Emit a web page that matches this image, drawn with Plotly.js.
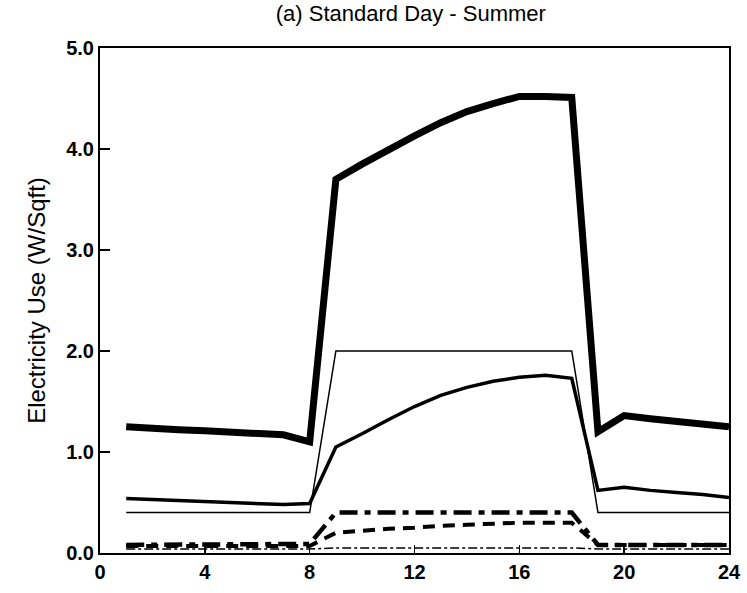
<!DOCTYPE html>
<html>
<head>
<meta charset="utf-8">
<script src="https://cdn.plot.ly/plotly-3.0.1.min.js"></script>
<style>html,body{margin:0;padding:0;background:#fff;}#chart{width:747px;height:593px;}</style>
</head>
<body>
<div id="chart"></div>
<script>
const hours = [1,2,3,4,5,6,7,8,9,10,11,12,13,14,15,16,17,18,19,20,21,22,23,24];
const total    = [1.25,1.23,1.22,1.21,1.20,1.19,1.17,1.10,3.70,3.85,4.00,4.13,4.26,4.37,4.45,4.52,4.52,4.51,1.20,1.36,1.33,1.30,1.28,1.25];
const lights   = [0.40,0.40,0.40,0.40,0.40,0.40,0.40,0.40,2.00,2.00,2.00,2.00,2.00,2.00,2.00,2.00,2.00,2.00,0.40,0.40,0.40,0.40,0.40,0.40];
const equip    = [0.54,0.53,0.52,0.51,0.50,0.49,0.48,0.49,1.05,1.18,1.32,1.45,1.56,1.64,1.70,1.74,1.76,1.73,0.62,0.65,0.62,0.60,0.58,0.55];
const fans     = [0.08,0.08,0.08,0.08,0.08,0.08,0.08,0.09,0.40,0.40,0.40,0.40,0.40,0.40,0.40,0.40,0.40,0.40,0.08,0.08,0.08,0.08,0.08,0.08];
const cooling  = [0.07,0.07,0.07,0.07,0.07,0.07,0.07,0.07,0.20,0.22,0.24,0.25,0.27,0.28,0.29,0.30,0.30,0.30,0.08,0.08,0.08,0.08,0.08,0.08];
const misc     = [0.04,0.04,0.04,0.04,0.04,0.04,0.04,0.04,0.05,0.05,0.05,0.05,0.05,0.05,0.05,0.05,0.05,0.05,0.04,0.04,0.04,0.04,0.04,0.04];
const xTicks = [0,4,8,12,16,20,24];
const yTicks = [0,1,2,3,4,5];
const yTickText = ['0.0','1.0','2.0','3.0','4.0','5.0'];

const traces = [
  {x: hours, y: misc, mode: 'lines', line: {color: '#000', width: 1.5, dash: 'dashdot'}},
  {x: hours, y: cooling, mode: 'lines', line: {color: '#000', width: 4, dash: '12px,8px'}},
  {x: hours, y: fans, mode: 'lines', line: {color: '#000', width: 4.5, dash: '18px,7px,6px,7px'}},
  {x: hours, y: lights, mode: 'lines', line: {color: '#000', width: 1.5}},
  {x: hours, y: equip, mode: 'lines', line: {color: '#000', width: 3.5}},
  {x: hours, y: total, mode: 'lines', line: {color: '#000', width: 7}}
];

const font = {family: 'Liberation Sans, Arial, sans-serif', color: '#000'};
const layout = {
  width: 747, height: 593,
  margin: {l: 100, r: 18, t: 48, b: 40},
  paper_bgcolor: '#fff', plot_bgcolor: '#fff',
  showlegend: false,
  title: {text: '(a) Standard Day - Summer', x: 0.55, xanchor: 'center', y: 0.978, yanchor: 'middle',
          font: Object.assign({size: 22}, font)},
  xaxis: {range: [0, 24], tickvals: xTicks, ticktext: xTicks.map(String), ticks: 'inside', ticklen: 8,
          tickwidth: 1.5, tickcolor: '#000', showgrid: false, zeroline: false, showline: true,
          linecolor: '#000', linewidth: 2, mirror: true,
          tickfont: Object.assign({size: 20, weight: 'bold'}, font)},
  yaxis: {range: [0, 5], tickvals: yTicks, ticktext: yTickText, ticks: 'inside', ticklen: 10,
          tickwidth: 1.5, tickcolor: '#000', showgrid: false, zeroline: false, showline: true,
          linecolor: '#000', linewidth: 2, mirror: true,
          tickfont: Object.assign({size: 20, weight: 'bold'}, font),
          title: {text: 'Electricity Use (W/Sqft)', standoff: 14, font: Object.assign({size: 24}, font)}}
};
Plotly.newPlot('chart', traces, layout, {displayModeBar: false, staticPlot: true});
</script>
</body>
</html>
